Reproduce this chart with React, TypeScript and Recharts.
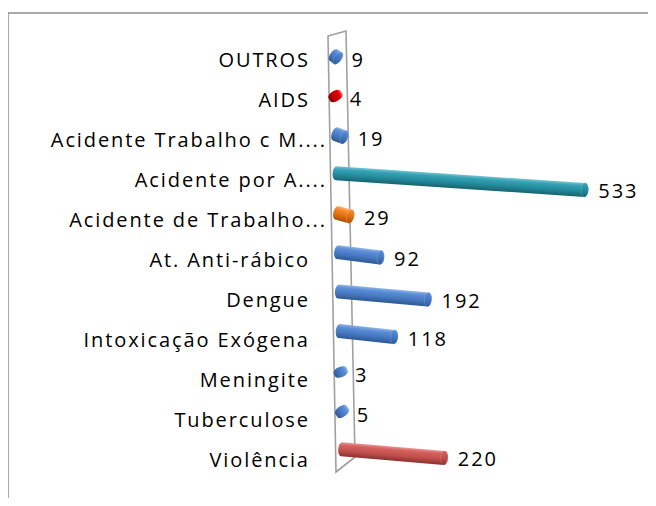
import React from "react";
import { BarChart, Bar, XAxis, YAxis, Cell, LabelList } from "recharts";

const categories = [
  "OUTROS",
  "AIDS",
  "Acidente Trabalho c M....",
  "Acidente por A....",
  "Acidente de Trabalho...",
  "At. Anti-rábico",
  "Dengue",
  "Intoxicação Exógena",
  "Meningite",
  "Tuberculose",
  "Violência",
];
const values = [9, 4, 19, 533, 29, 92, 192, 118, 3, 5, 220];
const colorKeys = ["blue", "red", "blue", "teal", "orange", "blue", "blue", "blue", "blue", "blue", "brick"];

const palettes: Record<string, string[]> = {
  blue: ["#8fb3e6", "#5a8ed6", "#4677c0", "#2c5893"],
  red: ["#ff5c5c", "#e60000", "#c40000", "#800000"],
  teal: ["#74c5d2", "#35a2b4", "#238a9b", "#17636f"],
  orange: ["#fbb77a", "#f78a2b", "#e26f0e", "#a84f06"],
  brick: ["#e99491", "#d4605d", "#c0504d", "#8c3230"],
};

const data = categories.map((name, i) => ({ name, value: values[i], color: colorKeys[i] }));

const FONT = "'Open Sans', sans-serif";
const LS = 1.9;

function geom(x: number, y: number, width: number, height: number) {
  const band = y + height / 2;
  const L = Math.max(width, 0);
  const shiftX = 1.5 + (band - 250) * 0.02;
  const x0 = x + shiftX;
  const cy = band - 4 - (band - 60) * 0.012;
  const dy = 3 + L * 0.055;
  return { x0, cy, L, dy };
}

const CylinderShape = (props: any) => {
  const { x, y, width, height, index, payload } = props;
  const pal = palettes[payload.color] || palettes.blue;
  const { x0, cy, L, dy } = geom(x, y, width, height);
  const len = Math.hypot(L, dy);
  const ang = (Math.atan2(dy, Math.max(L, 0.001)) * 180) / Math.PI;
  const r = 7;
  const rx = 3.5;
  const id = `cyl-${index}`;
  const idc = `cap-${index}`;
  const body = `M0,${-r} L${len},${-r} A${rx},${r} 0 0 1 ${len},${r} L0,${r} A${rx},${r} 0 0 1 0,${-r} Z`;
  return (
    <g transform={`translate(${x0},${cy}) rotate(${ang})`}>
      <defs>
        <linearGradient id={id} x1="0" y1="0" x2="0" y2="1">
          <stop offset="0" stopColor={pal[0]} />
          <stop offset="0.22" stopColor={pal[1]} />
          <stop offset="0.6" stopColor={pal[2]} />
          <stop offset="1" stopColor={pal[3]} />
        </linearGradient>
        <linearGradient id={idc} x1="0" y1="0" x2="0" y2="1">
          <stop offset="0" stopColor={pal[1]} />
          <stop offset="0.5" stopColor={pal[2]} />
          <stop offset="1" stopColor={pal[3]} />
        </linearGradient>
      </defs>
      <path d={body} fill={`url(#${id})`} />
      {len > 4 ? (
        <ellipse cx={len} cy={0} rx={rx} ry={r} fill={`url(#${idc})`} stroke={pal[0]} strokeWidth={0.6} strokeOpacity={0.5} />
      ) : null}
    </g>
  );
};

const ValueLabel = (props: any) => {
  const { x, y, width, height, value } = props;
  const { x0, cy, L, dy } = geom(x, y, width, height);
  return (
    <text
      x={x0 + L + 3.5 + 10}
      y={cy + dy + 1}
      textAnchor="start"
      dominantBaseline="central"
      fontFamily={FONT}
      fontSize={20}
      letterSpacing={LS}
      fill="#000"
    >
      {value}
    </text>
  );
};

const CategoryTick = (props: any) => {
  const { x, y, payload } = props;
  const label: string = payload.value;
  const dx = label.endsWith(".") ? -11 + LS : -28 + LS;
  return (
    <text
      x={x + dx}
      y={y + 1}
      textAnchor="end"
      dominantBaseline="central"
      fontFamily={FONT}
      fontSize={20}
      letterSpacing={LS}
      fill="#000"
    >
      {label}
    </text>
  );
};

export default function App() {
  return (
    <div style={{ margin: -8, position: "relative", width: 656, height: 506, overflow: "hidden", background: "#fff" }}>
      <svg width={656} height={506} style={{ position: "absolute", left: 0, top: 0 }}>
        <line x1={8} y1={13} x2={656} y2={13} stroke="#8c8c8c" strokeWidth={1.5} />
        <line x1={8} y1={13} x2={8} y2={506} stroke="#8c8c8c" strokeWidth={1.5} />
        <polygon points="328,36 346,31 355,457 336,472" fill="#fff" stroke="#a0a0a0" strokeWidth={1.6} />
      </svg>
      <div style={{ position: "absolute", left: 0, top: 0 }}>
        <BarChart
          width={656}
          height={506}
          data={data}
          layout="vertical"
          margin={{ top: 39, right: 40, bottom: 28, left: 0 }}
          barCategoryGap={0}
        >
          <XAxis type="number" domain={[0, 600]} hide />
          <YAxis
            type="category"
            dataKey="name"
            width={336}
            axisLine={false}
            tickLine={false}
            tickSize={0}
            tickMargin={0}
            interval={0}
            tick={<CategoryTick />}
          />
          <Bar dataKey="value" isAnimationActive={false} shape={<CylinderShape />}>
            {data.map((d, i) => (
              <Cell key={i} fill={palettes[d.color][2]} />
            ))}
            <LabelList dataKey="value" content={<ValueLabel />} />
          </Bar>
        </BarChart>
      </div>
    </div>
  );
}
